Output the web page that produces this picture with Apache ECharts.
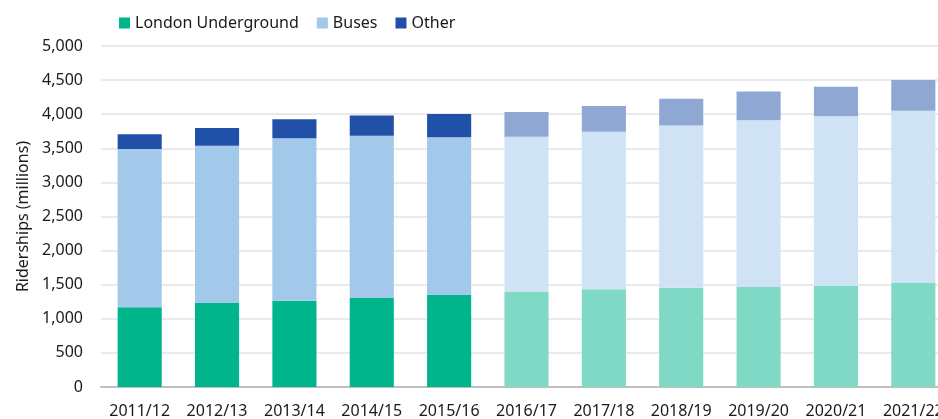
<!DOCTYPE html>
<html lang="en">
<head>
    <meta charset="UTF-8">
    <title>Riderships</title>
    <script src="https://cdn.jsdelivr.net/npm/echarts@6/dist/echarts.min.js"></script>
    <style>
        body { margin: 0; background: #fff; overflow: hidden; }
        /* the original chart is cut off on the right, so the canvas is a bit wider than the window */
        #main { width: 952px; height: 419px; }
    </style>
</head>
<body>
    <div id="main"></div>
    <script>
        // years, from 2016/17 on the bars are drawn lighter (projections)
        var years = ['2011/12', '2012/13', '2013/14', '2014/15', '2015/16', '2016/17',
            '2017/18', '2018/19', '2019/20', '2020/21', '2021/22'];
        var firstProjected = 5;

        // riderships in millions
        var underground = [1170, 1230, 1265, 1305, 1350, 1393, 1432, 1456, 1466, 1481, 1525];
        var buses = [2320, 2308, 2382, 2380, 2312, 2278, 2312, 2377, 2446, 2490, 2524];
        var other = [216, 261, 279, 295, 342, 363, 378, 392, 421, 430, 451];

        var yTicks = [0, 500, 1000, 1500, 2000, 2500, 3000, 3500, 4000, 4500, 5000];

        var font = 'Noto Sans';

        // colour for actual / projected
        function withColors(values, dark, light) {
            var out = [];
            for (var i = 0; i < values.length; i++) {
                out.push({
                    value: values[i],
                    itemStyle: { color: i < firstProjected ? dark : light }
                });
            }
            return out;
        }

        var myChart = echarts.init(document.getElementById('main'));

        var option = {
            animation: false,
            textStyle: { fontFamily: font },
            legend: {
                top: 10,
                left: 114,
                itemWidth: 11,
                itemHeight: 11,
                itemGap: 18,
                icon: 'rect',
                textStyle: { fontSize: 16, color: '#1a1a1a', fontFamily: font },
                data: ['London Underground', 'Buses', 'Other']
            },
            grid: {
                left: 101,
                top: 46,
                right: 0,
                height: 341
            },
            xAxis: {
                type: 'category',
                data: years,
                axisTick: { show: false },
                axisLine: { lineStyle: { color: '#bfbfbf', width: 2 } },
                axisLabel: { fontSize: 16, color: '#1a1a1a', margin: 16, interval: 0 }
            },
            yAxis: {
                type: 'value',
                min: yTicks[0],
                max: yTicks[yTicks.length - 1],
                interval: 500,
                name: 'Riderships (millions)',
                nameLocation: 'middle',
                nameGap: 64,
                nameTextStyle: { fontSize: 16, color: '#1a1a1a' },
                axisLine: { show: false },
                axisTick: { show: false },
                splitLine: { lineStyle: { color: '#e3e3e3', width: 1.5 } },
                axisLabel: {
                    fontSize: 16,
                    color: '#1a1a1a',
                    margin: 18,
                    formatter: function (v) { return v.toLocaleString('en-US'); }
                }
            },
            series: [
                {
                    name: 'London Underground',
                    type: 'bar',
                    stack: 'total',
                    barWidth: '57%',
                    itemStyle: { color: '#00b48c' },
                    data: withColors(underground, '#00b48c', '#7fd9c5')
                },
                {
                    name: 'Buses',
                    type: 'bar',
                    stack: 'total',
                    itemStyle: { color: '#a2c8ea' },
                    data: withColors(buses, '#a2c8ea', '#d0e3f4')
                },
                {
                    name: 'Other',
                    type: 'bar',
                    stack: 'total',
                    itemStyle: { color: '#2150a8' },
                    data: withColors(other, '#2150a8', '#8fa7d3')
                }
            ]
        };

        myChart.setOption(option);
    </script>
</body>
</html>
